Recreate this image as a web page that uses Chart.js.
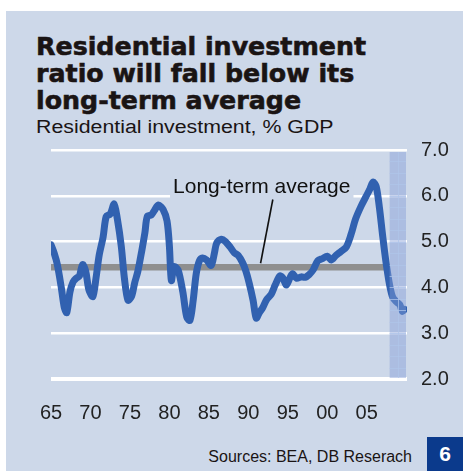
<!DOCTYPE html>
<html>
<head>
<meta charset="utf-8">
<script src="https://cdn.jsdelivr.net/npm/chart.js@4"></script>
<style>
  body { margin: 0; width: 463px; height: 471px; position: relative; background: #fff; overflow: hidden; }
  #panel { position: absolute; left: 6px; top: 11px; right: 0; bottom: 0; background: #cdd8e9; }
  #title { position: absolute; left: 36px; top: 33px; font: bold 25.3px/27px "DejaVu Sans", sans-serif; color: #1a1414; white-space: nowrap; -webkit-text-stroke: 0.6px #1a1414; }
  #subtitle { position: absolute; left: 36px; top: 117px; font: 18px/20px "Liberation Sans", Arial, sans-serif; color: #1a1414; white-space: nowrap; transform: scaleX(1.185); transform-origin: left; }
  #source { position: absolute; right: 51px; top: 449px; font: 16px/16px "Liberation Sans", Arial, sans-serif; color: #1a1414; white-space: nowrap; }
  #badge { position: absolute; left: 427px; top: 437px; width: 36px; height: 34px; background: #0b3a8c; color: #fff; font: bold 21px/34px "Liberation Sans", Arial, sans-serif; text-align: center; }
  #chart { position: absolute; left: 0; top: 0; }
</style>
</head>
<body>
<div id="panel"></div>
<div id="title">Residential investment<br>ratio will fall below its<br>long-term average</div>
<div id="subtitle">Residential investment, % GDP</div>
<div id="source">Sources: BEA, DB Reserach</div>
<div id="badge">6</div>
<canvas id="chart" width="463" height="471"></canvas>
<script>
const years = [
  1965.0, 1965.4, 1965.8, 1966.3, 1966.7, 1967.0, 1967.4, 1967.8, 1968.2, 1968.6,
  1969.0, 1969.4, 1969.8, 1970.3, 1970.7, 1971.1, 1971.6, 1972.0, 1972.5, 1973.0,
  1973.4, 1973.9, 1974.3, 1974.75, 1975.2, 1975.6, 1976.0, 1976.5, 1976.9, 1977.2,
  1977.7, 1978.1, 1978.6, 1979.2, 1979.7, 1980.0, 1980.25, 1980.6, 1981.1, 1981.7,
  1982.2, 1982.6, 1983.0, 1983.4, 1983.8, 1984.2, 1984.7, 1985.3, 1985.7, 1986.0,
  1986.6, 1987.1, 1987.7, 1988.2, 1988.7, 1989.3, 1989.7, 1990.1, 1990.6, 1991.0,
  1991.4, 1991.8, 1992.3, 1992.9, 1993.4, 1994.0, 1994.4, 1994.8, 1995.3, 1995.6,
  1996.1, 1996.7, 1997.2, 1997.7, 1998.2, 1998.8, 1999.4, 2000.0, 2000.5, 2001.1,
  2001.7, 2002.4, 2003.0, 2003.6, 2004.3, 2004.9, 2005.4, 2005.8, 2006.2, 2006.6,
  2007.0, 2007.4, 2007.9, 2008.3, 2008.8, 2009.2, 2009.5, 2009.8
];
const ratio = [
  4.93, 4.75, 4.50, 4.00, 3.55, 3.45, 3.90, 4.12, 4.20, 4.25,
  4.50, 4.35, 3.95, 3.80, 4.20, 4.70, 5.10, 5.55, 5.60, 5.82,
  5.50, 4.90, 4.20, 3.72, 3.80, 4.10, 4.35, 4.80, 5.20, 5.55,
  5.58, 5.68, 5.80, 5.70, 5.45, 4.90, 4.15, 4.45, 4.38, 3.90,
  3.35, 3.28, 3.70, 4.30, 4.58, 4.64, 4.60, 4.48, 4.75, 4.97,
  5.05, 5.00, 4.88, 4.76, 4.70, 4.53, 4.35, 4.10, 3.72, 3.33,
  3.45, 3.55, 3.73, 3.85, 4.05, 4.25, 4.20, 4.05, 4.22, 4.30,
  4.20, 4.23, 4.22, 4.28, 4.38, 4.58, 4.63, 4.68, 4.60, 4.70,
  4.78, 4.88, 5.15, 5.50, 5.78, 5.98, 6.15, 6.30, 6.20, 5.75,
  5.15, 4.60, 4.05, 3.78, 3.68, 3.62, 3.48, 3.52
];
const averageRatio = 4.44;
const averageLabel = 'Long-term average';
const forecastFrom = 2007.9;
const xTicks = [1965, 1970, 1975, 1980, 1985, 1990, 1995, 2000, 2005];
const yTicks = [2, 3, 4, 5, 6, 7];

const panelColor = '#cdd8e9';

const annotate = {
  id: 'annotate',
  beforeDatasetsDraw(chart) {
    const { ctx, scales: { x, y } } = chart;
    ctx.save();
    ctx.font = '21px "Liberation Sans", Arial, sans-serif';
    const cx = x.getPixelForValue(1991.7);
    const base = y.getPixelForValue(6) - 3.3;
    const w = ctx.measureText(averageLabel).width;
    ctx.fillStyle = panelColor;
    ctx.fillRect(cx - w / 2 - 3, base - 18, w + 6, 26);
    ctx.fillStyle = '#111';
    ctx.textAlign = 'center';
    ctx.fillText(averageLabel, cx, base);
    // leader line down to the average
    ctx.strokeStyle = '#111';
    ctx.lineWidth = 1.6;
    ctx.beginPath();
    ctx.moveTo(x.getPixelForValue(1993.1), base + 7);
    ctx.lineTo(x.getPixelForValue(1991.55), y.getPixelForValue(averageRatio) - 4);
    ctx.stroke();
    ctx.restore();
  },
  afterDatasetsDraw(chart) {
    const { ctx, chartArea: a, scales: { x, y } } = chart;
    const x0 = x.getPixelForValue(forecastFrom);
    const x1 = a.right - 1;
    const y0 = a.top + 2, y1 = a.bottom - 1;
    ctx.save();
    ctx.fillStyle = 'rgba(133,158,214,0.45)';
    ctx.fillRect(x0, y0, x1 - x0, y1 - y0);
    ctx.strokeStyle = 'rgba(175,196,234,0.75)';
    ctx.lineWidth = 1;
    ctx.beginPath();
    for (let v = 2.25; v < 7; v += 0.25) {
      const py = Math.round(y.getPixelForValue(v)) + 0.5;
      ctx.moveTo(x0, py);
      ctx.lineTo(x1, py);
    }
    const mx = Math.round((x0 + x1) / 2) + 0.5;
    ctx.moveTo(mx, y0);
    ctx.lineTo(mx, y1);
    ctx.stroke();
    ctx.restore();
  }
};

Chart.defaults.font.family = '"Liberation Sans", Arial, sans-serif';

new Chart(document.getElementById('chart'), {
  type: 'line',
  data: {
    datasets: [
      {
        data: years.map((yr, i) => ({ x: yr, y: ratio[i] })),
        borderColor: '#3161b0',
        borderWidth: 7,
        borderCapStyle: 'round',
        borderJoinStyle: 'round',
        pointRadius: 0,
        tension: 0.3,
        order: 0
      },
      {
        data: [{ x: years[0], y: averageRatio }, { x: forecastFrom, y: averageRatio }],
        borderColor: '#8f8f8f',
        borderWidth: 6.5,
        pointRadius: 0,
        order: 1
      }
    ]
  },
  options: {
    responsive: false,
    animation: false,
    devicePixelRatio: 1,
    layout: { padding: { left: 51, top: 150, right: 0, bottom: 0 } },
    plugins: { legend: { display: false }, tooltip: { enabled: false } },
    scales: {
      x: {
        type: 'linear',
        min: 1965,
        max: 2010.1,
        afterBuildTicks: s => { s.ticks = xTicks.map(v => ({ value: v })); },
        afterFit: s => { s.height = 92; },
        grid: { display: false },
        border: { display: false },
        ticks: {
          color: '#222',
          font: { size: 20 },
          padding: 14,
          maxRotation: 0,
          callback: v => String(v % 100).padStart(2, '0')
        }
      },
      y: {
        position: 'right',
        min: 2,
        max: 7,
        afterBuildTicks: s => { s.ticks = yTicks.map(v => ({ value: v })); },
        afterFit: s => { s.width = 56; },
        grid: {
          color: '#ffffff',
          lineWidth: c => (c.tick && c.tick.value === 2 ? 4 : 2.5),
          drawTicks: false
        },
        border: { display: false },
        ticks: {
          color: '#222',
          font: { size: 20 },
          padding: 14,
          callback: v => v.toFixed(1)
        }
      }
    }
  },
  plugins: [annotate]
});
</script>
</body>
</html>
